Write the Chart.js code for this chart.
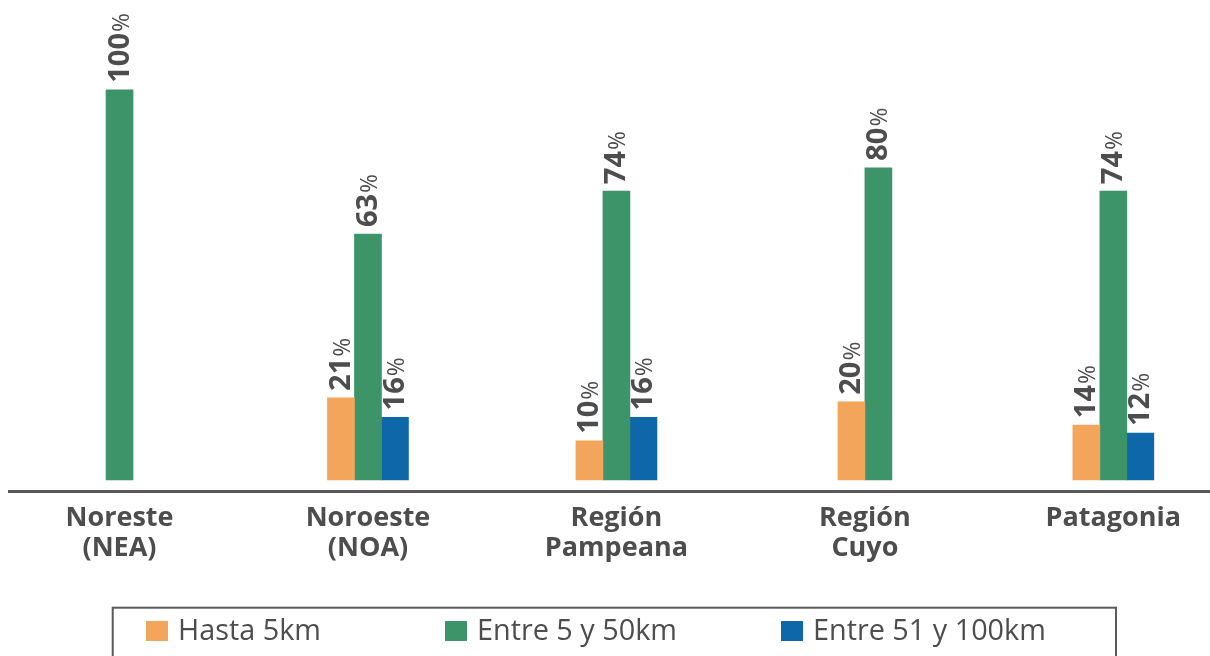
<!DOCTYPE html>
<html>
<head>
<meta charset="utf-8">
<script src="https://cdn.jsdelivr.net/npm/chart.js@4.4.1/dist/chart.umd.min.js"></script>
<style>
html,body{margin:0;padding:0;background:#ffffff;}
#c{display:block;}
</style>
</head>
<body>
<canvas id="c" width="1210" height="656"></canvas>
<script>
// ---- data ----
const categories = [["Noreste","(NEA)"],["Noroeste","(NOA)"],["Región","Pampeana"],["Región","Cuyo"],["Patagonia"]];
const seriesNames = ["Hasta 5km","Entre 5 y 50km","Entre 51 y 100km"];
const hasta5km = [null, 21, 10, 20, 14];
const entre5y50km = [100, 63, 74, 80, 74];
const entre51y100km = [null, 16, 16, null, 12];

// ---- styling ----
const seriesColors = ['#F3A65B', '#3E9469', '#0E67A8'];
const textColor = '#4d4d4d';
const FONT = '"Open Sans", "Noto Sans", sans-serif';
const legendItemX = [146, 445, 781];

const valueLabels = {
  id: 'valueLabels',
  afterDatasetsDraw(chart) {
    const ctx = chart.ctx;
    chart.data.datasets.forEach((ds, di) => {
      const meta = chart.getDatasetMeta(di);
      meta.data.forEach((bar, i) => {
        const v = ds.data[i];
        if (v === null || v === undefined) return;
        ctx.save();
        ctx.translate(bar.x, bar.y - 7);
        ctx.rotate(-Math.PI / 2);
        ctx.fillStyle = textColor;
        ctx.textBaseline = 'alphabetic';
        ctx.textAlign = 'left';
        ctx.font = 'bold 29px ' + FONT;
        const num = String(v);
        ctx.fillText(num, 0, 9);
        const w = ctx.measureText(num).width;
        ctx.font = '23px ' + FONT;
        ctx.fillText('%', w + 1, 9);
        ctx.restore();
      });
    });
  }
};

const boxedLegend = {
  id: 'boxedLegend',
  afterDraw(chart) {
    const ctx = chart.ctx;
    ctx.save();
    ctx.strokeStyle = '#5a5a5a';
    ctx.lineWidth = 2;
    ctx.strokeRect(112.7, 607.7, 1116 - 112.7, 80);
    ctx.font = '28.8px ' + FONT;
    ctx.textBaseline = 'middle';
    ctx.textAlign = 'left';
    chart.data.datasets.forEach((ds, i) => {
      const x = legendItemX[i];
      ctx.fillStyle = ds.backgroundColor;
      ctx.fillRect(x, 621, 22, 20);
      ctx.fillStyle = textColor;
      ctx.fillText(ds.label, x + 32, 632);
    });
    ctx.restore();
  }
};

new Chart(document.getElementById('c'), {
  type: 'bar',
  data: {
    labels: categories.map((_, i) => i),
    datasets: [
      { label: seriesNames[0], data: hasta5km, backgroundColor: seriesColors[0] },
      { label: seriesNames[1], data: entre5y50km, backgroundColor: seriesColors[1] },
      { label: seriesNames[2], data: entre51y100km, backgroundColor: seriesColors[2] }
    ]
  },
  options: {
    responsive: false,
    animation: false,
    skipNull: true,
    barThickness: 27,
    layout: { padding: { left: 9, right: 0, top: 0, bottom: 84.5 } },
    plugins: {
      tooltip: { enabled: false },
      legend: { display: false }
    },
    scales: {
      x: {
        type: 'linear',
        offset: false,
        min: -0.4448,
        max: 4.389,
        grid: { display: false, drawTicks: false },
        border: { display: true, color: '#595959', width: 3 },
        afterFit(scale) { scale.height = 80; },
        ticks: {
          stepSize: 1,
          includeBounds: false,
          autoSkip: false,
          maxRotation: 0,
          minRotation: 0,
          padding: 12,
          color: textColor,
          font: { family: FONT, size: 27, weight: 'bold', lineHeight: 1.111 },
          callback: (value) => Number.isInteger(value) && categories[value] ? categories[value] : ''
        }
      },
      y: {
        display: false,
        min: -3,
        max: 123,
        grid: { display: false }
      }
    }
  },
  plugins: [valueLabels, boxedLegend]
});
</script>
</body>
</html>
